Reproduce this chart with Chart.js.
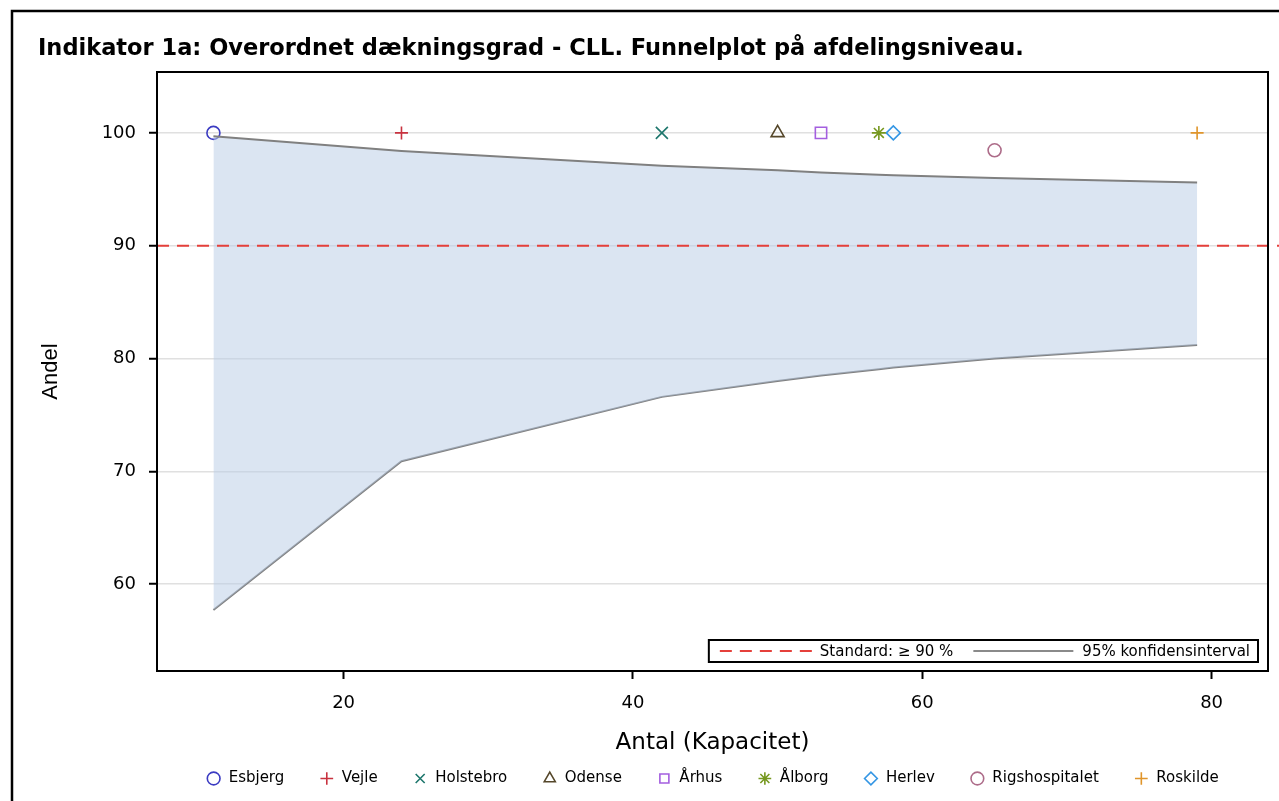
<!DOCTYPE html>
<html lang="da">
<head>
<meta charset="utf-8">
<title>Indikator 1a: Overordnet dækningsgrad - CLL</title>
<script src="https://cdn.jsdelivr.net/npm/chart.js@4.4.1/dist/chart.umd.min.js"></script>
<style>
  html, body { margin: 0; padding: 0; background: #ffffff; overflow: hidden; }
  #wrap { position: relative; width: 1279px; height: 801px; }
  canvas { display: block; }
</style>
</head>
<body>
<div id="wrap"><canvas id="funnel" width="1279" height="801"></canvas></div>
<script>
// Afdelinger: antal patienter (kapacitet) og andel (%)
const afdelinger = ['Esbjerg', 'Vejle', 'Holstebro', 'Odense', 'Århus', 'Ålborg', 'Herlev', 'Rigshospitalet', 'Roskilde'];
const antal = [11, 24, 42, 50, 53, 57, 58, 65, 79];
const andel = [100, 100, 100, 100, 100, 100, 100, 98.46, 100];

// 95% konfidensinterval (tragt)
const graenseAntal = [11, 24, 42, 50, 53, 57, 58, 65, 79];
const oevreGraense = [99.7, 98.4, 97.1, 96.7, 96.5, 96.3, 96.25, 96.0, 95.6];
const nedreGraense = [57.7, 70.9, 76.6, 78.0, 78.5, 79.05, 79.2, 80.0, 81.2];

// Standard og akser
const standard = 90;
const xTicks = [20, 40, 60, 80];
const yTicks = [60, 70, 80, 90, 100];
const xRange = [7.1, 83.9];
const yRange = [52.3, 105.4];

// Udseende
const markoerer = ['circle', 'cross', 'crossRot', 'triangle', 'rect', 'star', 'rectRot', 'circle', 'cross'];
const farver = ['#3b3bc2', '#c8323f', '#1d766c', '#55472a', '#a45fdf', '#76981f', '#3496e4', '#ad6c89', '#e0952b'];
const markoerRadius = { circle: 6.5, cross: 6.5, crossRot: 8.5, triangle: 7.5, rect: 8, star: 7, rectRot: 7 };

const tickFont = { family: '"DejaVu Sans", sans-serif', size: 18 };
const yTitleFont = { family: '"Liberation Sans", Arial, sans-serif', size: 22 };
const xTitleFont = { family: '"DejaVu Sans", sans-serif', size: 23 };
const labelFont = { family: '"DejaVu Sans", sans-serif', size: 15 };

// Ydre ramme, standardlinje og plotramme
const rammePlugin = {
  id: 'ramme',
  beforeDraw(chart) {
    const { ctx, width, height } = chart;
    ctx.save();
    ctx.strokeStyle = '#000';
    ctx.lineWidth = 2.5;
    ctx.beginPath();
    ctx.moveTo(12, height);
    ctx.lineTo(12, 11);
    ctx.lineTo(width, 11);
    ctx.stroke();
    ctx.restore();
  },
  afterDatasetsDraw(chart) {
    const { ctx, chartArea, scales, width } = chart;
    const y = scales.y.getPixelForValue(standard);
    ctx.save();
    ctx.strokeStyle = '#e5403b';
    ctx.lineWidth = 2;
    ctx.setLineDash([12, 8]);
    ctx.beginPath();
    ctx.moveTo(chartArea.left, y);
    ctx.lineTo(width, y);
    ctx.stroke();
    ctx.setLineDash([]);
    ctx.strokeStyle = '#000';
    ctx.lineWidth = 2;
    ctx.strokeRect(chartArea.left, chartArea.top, chartArea.right - chartArea.left, chartArea.bottom - chartArea.top);
    ctx.restore();
  }
};

// Indlejret forklaring nederst til højre i plottet
const indlejretForklaring = {
  id: 'indlejretForklaring',
  afterDraw(chart) {
    const { ctx, chartArea } = chart;
    const t1 = 'Standard: \u2265 ' + standard + ' %';
    const t2 = '95% konfidensinterval';
    ctx.save();
    ctx.font = '15px "DejaVu Sans", sans-serif';
    const w1 = ctx.measureText(t1).width;
    const w2 = ctx.measureText(t2).width;
    const segs = [11, 92, 8, w1, 20, 100, 9, w2, 8];
    const total = segs.reduce((a, b) => a + b, 0);
    const h = 22;
    const right = chartArea.right - 10;
    const bottom = chartArea.bottom - 9;
    const left = right - total;
    const top = bottom - h;
    const cy = top + h / 2;
    ctx.fillStyle = '#fff';
    ctx.fillRect(left, top, total, h);
    ctx.strokeStyle = '#000';
    ctx.lineWidth = 2;
    ctx.strokeRect(left, top, total, h);
    let x = left + segs[0];
    ctx.strokeStyle = '#e5403b';
    ctx.setLineDash([12, 8]);
    ctx.beginPath(); ctx.moveTo(x, cy); ctx.lineTo(x + segs[1], cy); ctx.stroke();
    ctx.setLineDash([]);
    x += segs[1] + segs[2];
    ctx.fillStyle = '#000';
    ctx.textBaseline = 'middle';
    ctx.fillText(t1, x, cy + 1);
    x += w1 + segs[4];
    ctx.strokeStyle = '#8a8a8a';
    ctx.lineWidth = 2;
    ctx.beginPath(); ctx.moveTo(x, cy); ctx.lineTo(x + segs[5], cy); ctx.stroke();
    x += segs[5] + segs[6];
    ctx.fillText(t2, x, cy + 1);
    ctx.restore();
  }
};

const punktDatasets = afdelinger.map((navn, i) => ({
  type: 'scatter',
  label: navn,
  data: [{ x: antal[i], y: andel[i] }],
  pointStyle: markoerer[i],
  pointRadius: markoerRadius[markoerer[i]],
  pointHoverRadius: markoerRadius[markoerer[i]],
  borderWidth: 1.6,
  borderColor: farver[i],
  backgroundColor: 'rgba(0,0,0,0)'
}));

const tragtDatasets = [
  {
    type: 'line',
    label: 'Øvre grænse',
    data: graenseAntal.map((n, i) => ({ x: n, y: oevreGraense[i] })),
    borderColor: '#808080',
    borderWidth: 2,
    pointRadius: 0,
    tension: 0,
    fill: '+1',
    backgroundColor: 'rgba(184,204,230,0.5)'
  },
  {
    type: 'line',
    label: 'Nedre grænse',
    data: graenseAntal.map((n, i) => ({ x: n, y: nedreGraense[i] })),
    borderColor: '#808080',
    borderWidth: 2,
    pointRadius: 0,
    tension: 0,
    fill: false
  }
];

new Chart(document.getElementById('funnel'), {
  type: 'scatter',
  data: { datasets: [...tragtDatasets, ...punktDatasets] },
  plugins: [rammePlugin, indlejretForklaring],
  options: {
    responsive: false,
    animation: false,
    devicePixelRatio: 1,
    layout: { padding: { left: 38, right: 11, top: 0, bottom: 5 } },
    plugins: {
      title: {
        display: true,
        text: 'Indikator 1a: Overordnet dækningsgrad - CLL. Funnelplot på afdelingsniveau.',
        align: 'start',
        color: '#000',
        font: { family: '"DejaVu Sans", sans-serif', size: 22.5, weight: 'bold' },
        padding: { top: 36, bottom: 9 }
      },
      legend: {
        position: 'bottom',
        fullSize: false,
        align: 'center',
        labels: {
          usePointStyle: true,
          boxWidth: 15,
          boxHeight: 9,
          padding: 35,
          color: '#000',
          font: labelFont,
          filter: (item) => afdelinger.includes(item.text)
        }
      },
      tooltip: { enabled: false }
    },
    scales: {
      x: {
        type: 'linear',
        min: xRange[0],
        max: xRange[1],
        afterBuildTicks: (s) => { s.ticks = xTicks.map(v => ({ value: v })); },
        afterFit: (s) => { s.height = 65; },
        border: { display: false },
        grid: { drawOnChartArea: false, drawTicks: true, tickLength: 8, tickColor: '#000', tickWidth: 2 },
        ticks: { color: '#000', font: tickFont, padding: 14 },
        title: { display: true, text: 'Antal (Kapacitet)', color: '#000', font: xTitleFont, padding: { top: 0, bottom: -21 } }
      },
      y: {
        type: 'linear',
        min: yRange[0],
        max: yRange[1],
        afterBuildTicks: (s) => { s.ticks = yTicks.map(v => ({ value: v })); },
        afterFit: (s) => { s.width = 119; },
        border: { display: false },
        grid: { color: '#e0e0e0', lineWidth: 1.5, drawTicks: true, tickLength: 8, tickColor: '#000', tickWidth: 2 },
        ticks: { color: '#000', font: tickFont, padding: 13 },
        title: { display: true, text: 'Andel', color: '#000', font: yTitleFont, padding: { top: 0, bottom: 0 } }
      }
    }
  }
});
</script>
</body>
</html>
